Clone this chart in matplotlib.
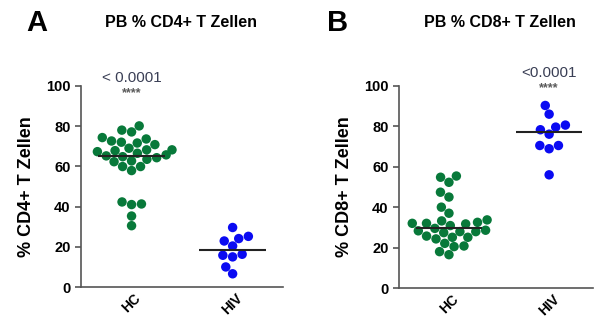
import matplotlib
matplotlib.use("Agg")
import matplotlib.pyplot as plt
import seaborn as sns
import pandas as pd

plt.rcParams['font.family'] = ['Liberation Sans', 'DejaVu Sans']

groups = ["HC", "HIV"]

# PB % CD4+ T Zellen
cd4_hc = [80.1, 78.0, 77.1, 73.6, 74.3, 72.0, 70.8, 71.6, 72.6, 68.2, 67.3, 69.0,
          68.2, 66.5, 65.7, 64.8, 64.3, 65.2, 67.8, 62.7, 63.5, 62.3, 59.9, 57.9,
          59.9, 41.3, 41.0, 42.3, 35.3, 30.5]
cd4_hiv = [29.6, 25.2, 24.1, 22.9, 20.4, 15.8, 15.0, 16.3, 10.0, 6.6]
cd4_median = [65.3, 18.6]

# PB % CD8+ T Zellen
cd8_hc = [55.4, 54.8, 52.3, 47.4, 45.0, 40.0, 37.0, 33.2, 32.5, 32.0, 32.0, 33.7,
          30.9, 31.7, 29.5, 28.3, 27.9, 27.9, 27.4, 28.6, 25.7, 25.1, 24.3, 25.1,
          22.1, 20.8, 20.5, 18.0, 16.5]
cd8_hiv = [90.3, 86.0, 80.6, 79.6, 78.3, 76.1, 70.5, 68.9, 70.5, 56.0]
cd8_median = [29.5, 77.3]

pvals = ["< 0.0001", "<0.0001"]
colors = {"HC": "#08793a", "HIV": "#0a0af2"}


def panel(ax, hc, hiv, med, ylabel, ptext, pgroup, py, xmax):
    df = pd.DataFrame({"group": ["HC"] * len(hc) + ["HIV"] * len(hiv),
                       "val": hc + hiv})
    sns.swarmplot(data=df, x="group", y="val", order=groups, hue="group",
                  palette=colors, size=6.8, ax=ax, legend=False, linewidth=0)
    ax.hlines(med, [i - 0.33 for i in range(2)], [i + 0.33 for i in range(2)],
              color="#222222", lw=1.5, zorder=5)
    ax.set_xlim(-0.5, xmax)
    ax.set_ylim(0, 100)
    ax.set_yticks(range(0, 101, 20))
    ax.set_xlabel("")
    ax.set_ylabel(ylabel, fontsize=13, fontweight="bold", labelpad=8)
    ax.spines["top"].set_visible(False)
    ax.spines["right"].set_visible(False)
    for s in ["left", "bottom"]:
        ax.spines[s].set_color("#555555")
        ax.spines[s].set_linewidth(1.2)
    ax.tick_params(axis="y", labelsize=10.5, width=1.2, length=4, color="#555555")
    ax.tick_params(axis="x", length=0, labelsize=10, pad=3)
    for lab in ax.get_yticklabels():
        lab.set_fontweight("bold")
    for lab in ax.get_xticklabels():
        lab.set_fontweight("bold")
        lab.set_rotation(45)
        lab.set_ha("center")
    ax.text(pgroup, py, ptext, ha="center", va="center", fontsize=11,
            color="#3a3f55", clip_on=False)
    ax.text(pgroup, py - 7.5, "****", ha="center", va="center", fontsize=9,
            fontweight="bold", color="#5a5a5a", clip_on=False)


fig = plt.figure(figsize=(5.98, 3.24), dpi=100)
axA = fig.add_axes([0.1355, 0.114, 0.338, 0.621])
axB = fig.add_axes([0.667, 0.111, 0.325, 0.624])

panel(axA, cd4_hc, cd4_hiv, cd4_median, "% CD4+ T Zellen", pvals[0], 0, 104, 1.5)
panel(axB, cd8_hc, cd8_hiv, cd8_median, "% CD8+ T Zellen", pvals[1], 1, 106.5, 1.44)

fig.text(0.062, 0.93, "A", fontsize=21, fontweight="bold", ha="center", va="center")
fig.text(0.302, 0.93, "PB % CD4+ T Zellen", fontsize=11.5, fontweight="bold",
         ha="center", va="center")
fig.text(0.565, 0.93, "B", fontsize=21, fontweight="bold", ha="center", va="center")
fig.text(0.836, 0.93, "PB % CD8+ T Zellen", fontsize=11.5, fontweight="bold",
         ha="center", va="center")

fig.savefig("out.png", dpi=100)
